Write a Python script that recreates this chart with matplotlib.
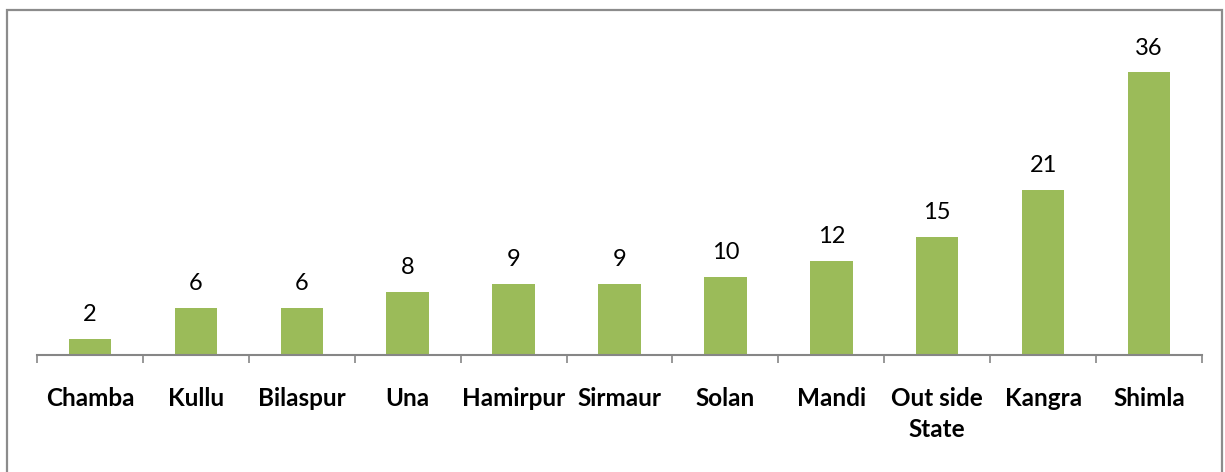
import numpy as np
import matplotlib.pyplot as plt
from matplotlib.patches import Rectangle

districts = ['Chamba', 'Kullu', 'Bilaspur', 'Una', 'Hamirpur', 'Sirmaur',
             'Solan', 'Mandi', 'Out side\nState', 'Kangra', 'Shimla']
counts = [2, 6, 6, 8, 9, 9, 10, 12, 15, 21, 36]

W, H = 1225, 472
fig = plt.figure(figsize=(W / 100, H / 100), dpi=100)
ax = fig.add_axes([37 / W, 1 - 355 / H, (1202 - 37) / W, (355 - 41) / H])

# outer chart border
fig.patches.append(Rectangle((7 / W, -0.05), (1222 - 7) / W, (H - 10) / H + 0.05,
                             transform=fig.transFigure, fill=False,
                             edgecolor='#8c8c8c', linewidth=1.6))

x = np.arange(len(districts))
ax.bar(x, counts, width=0.4, color='#9bbb59')

for xi, v in zip(x, counts):
    ax.annotate(str(v), (xi, v), xytext=(0, 10), textcoords='offset points',
                ha='center', va='bottom', fontsize=17, family='Lato')

ax.set_xlim(-0.5, len(districts) - 0.5)
ax.set_ylim(0, 40)
ax.set_yticks([])
for s in ['left', 'right', 'top']:
    ax.spines[s].set_visible(False)
ax.spines['bottom'].set_color('#868686')
ax.spines['bottom'].set_linewidth(1.5)

ax.set_xticks(x)
ax.set_xticklabels(districts, fontsize=17.5, fontweight='bold', family='Lato',
                   linespacing=1.4, va='top')
ax.tick_params(axis='x', which='major', length=0, pad=23)
ax.set_xticks(np.arange(len(districts) + 1) - 0.5, minor=True)
ax.tick_params(axis='x', which='minor', length=6, color='#868686', width=1.2)

plt.savefig('out.png', dpi=100)
